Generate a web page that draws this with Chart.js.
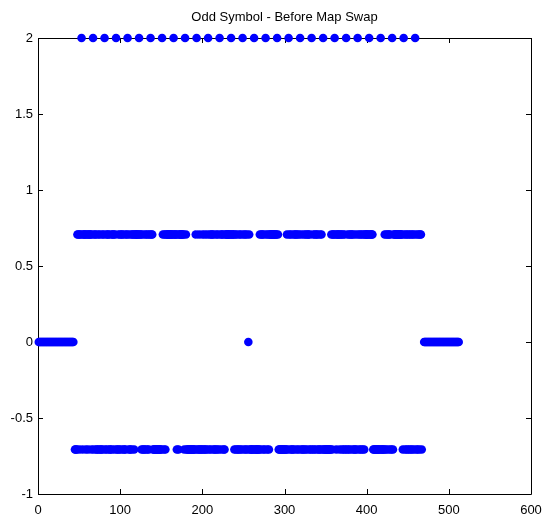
<!DOCTYPE html>
<html>
<head>
<meta charset="utf-8">
<title>Odd Symbol - Before Map Swap</title>
<script src="https://cdn.jsdelivr.net/npm/chart.js@4.4.1/dist/chart.umd.min.js"></script>
<style>
  html, body { margin: 0; padding: 0; background: #ffffff; }
</style>
</head>
<body>
<canvas id="symbolChart" width="545" height="519"></canvas>
<script>
// Subcarrier values of the odd OFDM symbol, before the map swap.
// Each list holds subcarrier indices; the level each list sits on is below.

const pilotLevel = 2;
const qpskLevel = 0.7071;

// pilots, every 14th carrier
const pilotIdx = [53, 67, 81, 95, 109, 123, 137, 151, 165, 179, 193, 207, 221, 235, 249,
  263, 277, 291, 305, 319, 333, 347, 361, 375, 389, 403, 417, 431, 445, 459];

// data carriers at +0.707
const upperIdx = [48, 49, 51, 52, 55, 56, 57, 59, 60, 62, 63, 64, 66, 69, 70, 73, 75, 78, 80,
  83, 85, 86, 89, 91, 92, 94, 98, 100, 102, 103, 106, 108, 110, 113, 115, 116, 118, 119, 120,
  121, 122, 124, 125, 127, 130, 132, 134, 136, 138, 139, 152, 154, 156, 157, 158, 159, 160,
  161, 162, 163, 164, 166, 167, 168, 170, 172, 173, 174, 175, 176, 177, 180, 192, 196, 200,
  203, 206, 209, 211, 212, 214, 217, 219, 222, 224, 225, 228, 229, 230, 231, 232, 233, 234,
  236, 237, 238, 240, 242, 245, 247, 250, 252, 254, 257, 270, 272, 273, 275, 278, 280, 282,
  283, 284, 285, 286, 287, 288, 289, 290, 292, 303, 306, 308, 311, 313, 314, 316, 318, 321,
  324, 326, 328, 329, 331, 335, 337, 339, 340, 343, 345, 357, 359, 360, 362, 364, 365, 366,
  368, 369, 371, 373, 377, 379, 381, 382, 384, 387, 390, 392, 394, 396, 398, 399, 400, 401,
  402, 404, 405, 406, 407, 422, 424, 426, 427, 429, 433, 434, 435, 436, 437, 438, 439, 440,
  441, 442, 443, 446, 448, 450, 452, 454, 456, 458, 461, 463, 465, 466];

// data carriers at -0.707
const lowerIdx = [45, 46, 47, 50, 54, 58, 61, 65, 68, 71, 72, 74, 76, 77, 79, 82, 84, 87, 88,
  90, 93, 96, 97, 99, 101, 104, 105, 107, 111, 112, 114, 117, 126, 128, 129, 131, 133, 135,
  140, 141, 142, 143, 144, 145, 146, 147, 148, 149, 150, 153, 155, 169, 171, 178, 181, 182,
  183, 184, 185, 186, 187, 188, 189, 190, 191, 194, 195, 197, 198, 199, 201, 202, 204, 205,
  208, 210, 213, 215, 216, 218, 220, 223, 226, 227, 239, 241, 243, 244, 246, 248, 251, 253,
  255, 258, 259, 260, 261, 262, 264, 265, 266, 267, 268, 269, 271, 274, 276, 279, 281, 293,
  294, 295, 296, 297, 298, 299, 300, 301, 302, 304, 307, 309, 310, 312, 315, 317, 320, 322,
  323, 325, 327, 330, 332, 334, 336, 338, 341, 342, 344, 346, 348, 349, 350, 351, 352, 353,
  354, 355, 356, 358, 363, 367, 370, 372, 374, 376, 378, 380, 383, 385, 386, 388, 391, 393,
  395, 397, 408, 409, 410, 411, 412, 413, 414, 415, 416, 418, 419, 420, 421, 423, 425, 428,
  430, 432, 444, 447, 449, 451, 453, 455, 457, 460, 462, 464, 467];

// guard bands and the DC carrier, all zero
const zeroIdx = [1, 2, 3, 4, 5, 6, 7, 8, 9, 10, 11, 12, 13, 14, 15, 16, 17, 18, 19, 20, 21,
  22, 23, 24, 25, 26, 27, 28, 29, 30, 31, 32, 33, 34, 35, 36, 37, 38, 39, 40, 41, 42, 43,
  256,
  470, 471, 472, 473, 474, 475, 476, 477, 478, 479, 480, 481, 482, 483, 484, 485, 486, 487,
  488, 489, 490, 491, 492, 493, 494, 495, 496, 497, 498, 499, 500, 501, 502, 503, 504, 505,
  506, 507, 508, 509, 510, 511, 512];

const xTicks = [0, 100, 200, 300, 400, 500, 600];
const xTickLabels = ['0', '100', '200', '300', '400', '500', '600'];
const yTicks = [-1, -0.5, 0, 0.5, 1, 1.5, 2];
const yTickLabels = ['-1', '-0.5', '0', '0.5', '1', '1.5', '2'];

const points = []
  .concat(zeroIdx.map(i => ({ x: i, y: 0 })))
  .concat(lowerIdx.map(i => ({ x: i, y: -qpskLevel })))
  .concat(upperIdx.map(i => ({ x: i, y: qpskLevel })))
  .concat(pilotIdx.map(i => ({ x: i, y: pilotLevel })));

const FONT = "'Liberation Sans', Arial, Helvetica, sans-serif";

// box around the axes with inward tick marks on all four sides
const boxAxes = {
  id: 'boxAxes',
  beforeDatasetsDraw(chart) {
    const { ctx, chartArea: a, scales } = chart;
    const len = 5;
    ctx.save();
    ctx.strokeStyle = '#000000';
    ctx.lineWidth = 1;
    ctx.beginPath();
    ctx.rect(Math.round(a.left) + 0.5, Math.round(a.top) + 0.5,
      Math.round(a.right - a.left), Math.round(a.bottom - a.top));
    xTicks.forEach(v => {
      const px = Math.round(scales.x.getPixelForValue(v)) + 0.5;
      ctx.moveTo(px, a.bottom); ctx.lineTo(px, a.bottom - len);
      ctx.moveTo(px, a.top); ctx.lineTo(px, a.top + len);
    });
    yTicks.forEach(v => {
      const py = Math.round(scales.y.getPixelForValue(v)) + 0.5;
      ctx.moveTo(a.left, py); ctx.lineTo(a.left + len, py);
      ctx.moveTo(a.right, py); ctx.lineTo(a.right - len, py);
    });
    ctx.stroke();
    ctx.restore();
  }
};

new Chart(document.getElementById('symbolChart'), {
  type: 'scatter',
  data: {
    datasets: [{
      data: points,
      backgroundColor: '#0000ff',
      borderWidth: 0,
      pointRadius: 4.3,
      pointHoverRadius: 4.3,
      clip: false
    }]
  },
  options: {
    responsive: false,
    animation: false,
    events: [],
    layout: { padding: { left: 0, right: 14, top: 0, bottom: 0 } },
    plugins: {
      legend: { display: false },
      tooltip: { enabled: false },
      title: {
        display: true,
        text: 'Odd Symbol - Before Map Swap',
        fullSize: false,
        color: '#000000',
        font: { family: FONT, size: 13, weight: 'normal' },
        padding: { top: 10, bottom: 12.4 }
      }
    },
    scales: {
      x: {
        type: 'linear',
        min: 0,
        max: 600,
        grid: { display: false, drawTicks: false },
        border: { display: false },
        afterBuildTicks: s => { s.ticks = xTicks.map(v => ({ value: v })); },
        afterFit: s => { s.height = 25; s.paddingLeft = 0; s.paddingRight = 0; },
        ticks: {
          color: '#000000',
          font: { family: FONT, size: 13 },
          padding: 9,
          maxRotation: 0,
          callback: (v, i) => xTickLabels[i]
        }
      },
      y: {
        type: 'linear',
        min: -1,
        max: 2,
        grid: { display: false, drawTicks: false },
        border: { display: false },
        afterBuildTicks: s => { s.ticks = yTicks.map(v => ({ value: v })); },
        afterFit: s => { s.width = 38; s.paddingTop = 0; s.paddingBottom = 0; },
        ticks: {
          color: '#000000',
          font: { family: FONT, size: 13 },
          padding: 5,
          callback: (v, i) => yTickLabels[i]
        }
      }
    }
  },
  plugins: [boxAxes]
});
</script>
</body>
</html>
